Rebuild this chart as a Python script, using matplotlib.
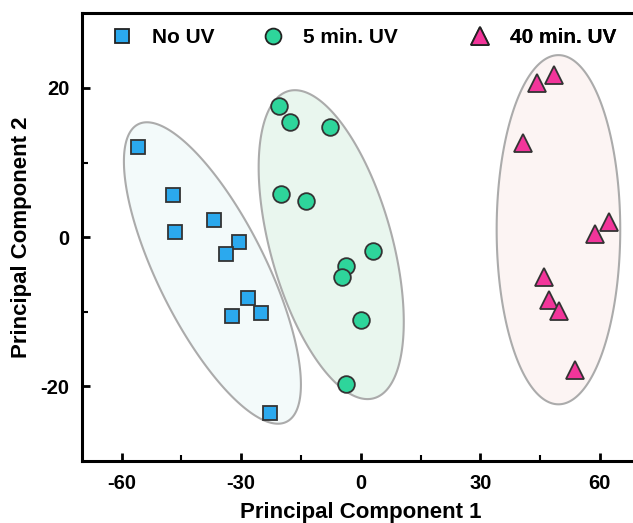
import numpy as np
import matplotlib.pyplot as plt
from matplotlib.lines import Line2D

plt.rcParams['font.family'] = ['Liberation Sans', 'DejaVu Sans']
plt.rcParams['font.weight'] = 'bold'
plt.rcParams['axes.unicode_minus'] = False

# PCA scores
no_uv_pc1 = [-55.9, -47.2, -46.7, -36.7, -30.5, -33.7, -28.2, -32.4, -24.9, -22.7]
no_uv_pc2 = [12.1, 5.7, 0.7, 2.3, -0.7, -2.3, -8.1, -10.5, -10.2, -23.6]

uv5_pc1 = [-20.4, -17.7, -7.6, -20.0, -13.8, 3.1, -3.6, -4.6, 0.1, -3.7]
uv5_pc2 = [17.6, 15.5, 14.8, 5.8, 4.9, -1.8, -3.9, -5.3, -11.1, -19.7]

uv40_pc1 = [48.5, 44.2, 40.6, 62.2, 58.7, 46.0, 47.2, 49.7, 53.8]
uv40_pc2 = [21.7, 20.7, 12.6, 2.0, 0.4, -5.3, -8.4, -9.9, -17.8]

labels = ['No UV', '5 min. UV', '40 min. UV']

# confidence ellipses: centre, half extent in x / y, correlation
ell_cx = [-37.2, -7.4, 49.6]
ell_cy = [-4.8, -1.0, 1.0]
ell_hw = [22.2, 18.2, 15.5]
ell_hh = [20.2, 20.7, 23.4]
ell_r = [-0.74, -0.50, 0.0]

face = ['#2BA9EE', '#2ED59B', '#F2359A']
fill = ['#F3FAFA', '#E9F6EE', '#FCF4F3']
markers = ['s', 'o', '^']
msize = [10.5, 12, 13]

fig = plt.figure(figsize=(6.33, 5.23), dpi=100)
ax = fig.add_axes([0.129, 0.1185, 0.8817, 0.856])

t = np.linspace(0, 2 * np.pi, 300)
for i in range(3):
    c = ell_r[i] * ell_hw[i] * ell_hh[i]
    S = np.array([[ell_hw[i] ** 2, c], [c, ell_hh[i] ** 2]])
    L = np.linalg.cholesky(S)
    pts = L @ np.vstack([np.cos(t), np.sin(t)])
    ax.fill(ell_cx[i] + pts[0], ell_cy[i] + pts[1], facecolor=fill[i],
            edgecolor='#ABABAB', linewidth=1.5, zorder=1)

xs = [no_uv_pc1, uv5_pc1, uv40_pc1]
ys = [no_uv_pc2, uv5_pc2, uv40_pc2]
for i in range(3):
    ax.plot(xs[i], ys[i], linestyle='none', marker=markers[i], markersize=msize[i],
            markerfacecolor=face[i], markeredgecolor='#333333', markeredgewidth=1.3,
            zorder=3)

ax.set_xlim(-70, 70)
ax.set_ylim(-30, 30)
ax.set_xticks([-60, -30, 0, 30, 60])
ax.set_xticks([-45, -15, 15, 45], minor=True)
ax.set_yticks([-20, 0, 20])
ax.set_yticks([-10, 10], minor=True)
ax.tick_params(which='major', direction='in', length=6, width=2, labelsize=14.5, pad=9)
ax.tick_params(which='minor', direction='in', length=4, width=1.5)
for lab in ax.get_xticklabels() + ax.get_yticklabels():
    lab.set_fontweight('bold')
for s in ax.spines.values():
    s.set_linewidth(2.2)

ax.set_xlabel('Principal Component 1', fontsize=16, fontweight='bold', labelpad=7)
ax.set_ylabel('Principal Component 2', fontsize=16, fontweight='bold', labelpad=6)

# one small legend per group so the spacing matches the original
leg_x = [0.053, 0.3236, 0.695]
for i in range(3):
    h = Line2D([], [], linestyle='none', marker=markers[i], markersize=msize[i] * 0.95,
               markerfacecolor=face[i], markeredgecolor='#222222', markeredgewidth=1.3)
    leg = ax.legend([h], [labels[i]], loc='center left', bbox_to_anchor=(leg_x[i], 0.946),
                    frameon=False, borderpad=0, borderaxespad=0, handlelength=1.0,
                    handletextpad=0.95, prop={'size': 15, 'weight': 'bold'})
    ax.add_artist(leg)

fig.savefig('out.png', dpi=100)
